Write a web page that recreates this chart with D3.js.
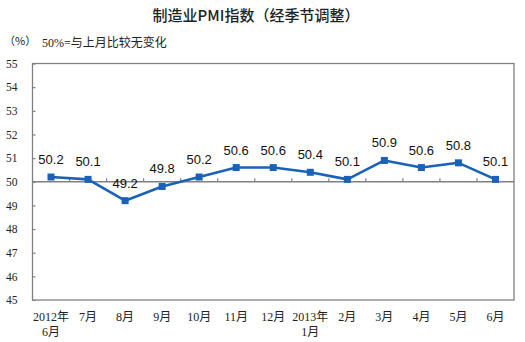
<!DOCTYPE html>
<html>
<head>
<meta charset="utf-8">
<script src="https://cdn.jsdelivr.net/npm/d3@7"></script>
<style>
  html, body { margin: 0; padding: 0; background: #fff; }
  svg { display: block; }
</style>
</head>
<body>
<svg id="chart" width="525" height="342"></svg>
<script>
// Manufacturing PMI, seasonally adjusted, June 2012 – June 2013
const monthLine1 = ["2012年", "7月", "8月", "9月", "10月", "11月", "12月", "2013年", "2月", "3月", "4月", "5月", "6月"];
const monthLine2 = ["6月", "", "", "", "", "", "", "1月", "", "", "", "", ""];
const pmiValues = [50.2, 50.1, 49.2, 49.8, 50.2, 50.6, 50.6, 50.4, 50.1, 50.9, 50.6, 50.8, 50.1];
const yTicks = [45, 46, 47, 48, 49, 50, 51, 52, 53, 54, 55];

const svg = d3.select("#chart");
const plot = { left: 32.5, right: 514, top: 63.5, bottom: 300 };
const lineColor = "#1a62b8";
const frameColor = "#808080";
const cjk = "'Noto Sans CJK SC', sans-serif";
const serif = "'Liberation Serif', 'Noto Sans CJK SC', serif";

const x = d3.scaleBand().domain(d3.range(pmiValues.length)).range([plot.left, plot.right]);
const y = d3.scaleLinear().domain([45, 55]).range([plot.bottom, plot.top]);

// Title and unit notes
svg.append("text")
  .attr("x", 256).attr("y", 21)
  .attr("text-anchor", "middle")
  .attr("font-family", cjk).attr("font-size", 15).attr("font-weight", 500)
  .attr("fill", "#222")
  .text("制造业PMI指数（经季节调整）");

svg.append("text")
  .attr("x", 4).attr("y", 45)
  .attr("font-family", cjk).attr("font-size", 11).attr("fill", "#222")
  .text("（%）");

svg.append("text")
  .attr("x", 42).attr("y", 47)
  .attr("font-family", serif).attr("font-size", 12).attr("fill", "#222")
  .text("50%=与上月比较无变化");

// Plot frame
svg.append("rect")
  .attr("x", plot.left).attr("y", plot.top)
  .attr("width", plot.right - plot.left).attr("height", plot.bottom - plot.top)
  .attr("fill", "none").attr("stroke", frameColor).attr("stroke-width", 1.3);

// Y axis: inward ticks, labels on the left
const yAxis = d3.axisLeft(y).tickValues(yTicks).tickSize(-3).tickPadding(15).tickFormat(d3.format("d"));
const yg = svg.append("g").attr("transform", `translate(${plot.left},0)`).call(yAxis);
yg.select(".domain").remove();
yg.selectAll(".tick line").attr("stroke", frameColor).attr("stroke-width", 1.2);
yg.selectAll(".tick text")
  .attr("font-family", serif).attr("font-size", 11.5).attr("fill", "#222");

// Reference line at 50 with category tick marks pointing up
const base = y(50);
svg.append("line")
  .attr("x1", plot.left).attr("x2", plot.right)
  .attr("y1", base).attr("y2", base)
  .attr("stroke", frameColor).attr("stroke-width", 1.3);

const boundaries = d3.range(1, pmiValues.length).map(i => x(i));
svg.append("g").selectAll("line").data(boundaries).join("line")
  .attr("x1", d => d).attr("x2", d => d)
  .attr("y1", base).attr("y2", base - 3.5)
  .attr("stroke", frameColor).attr("stroke-width", 1.2);

// Category labels (two lines where the year is shown)
const cx = i => x(i) + x.bandwidth() / 2;
const xl = svg.append("g")
  .attr("font-family", serif).attr("font-size", 12).attr("fill", "#222")
  .attr("text-anchor", "middle");
xl.selectAll("text.l1").data(monthLine1).join("text").attr("class", "l1")
  .attr("x", (d, i) => cx(i)).attr("y", 321).text(d => d);
xl.selectAll("text.l2").data(monthLine2).join("text").attr("class", "l2")
  .attr("x", (d, i) => cx(i)).attr("y", 336).text(d => d);

// Data line and markers
const line = d3.line().x((d, i) => cx(i)).y(d => y(d));
svg.append("path")
  .datum(pmiValues)
  .attr("d", line)
  .attr("fill", "none").attr("stroke", lineColor).attr("stroke-width", 2.6)
  .attr("stroke-linejoin", "round");

svg.append("g").selectAll("rect").data(pmiValues).join("rect")
  .attr("x", (d, i) => cx(i) - 3.5).attr("y", d => y(d) - 3.5)
  .attr("width", 7).attr("height", 7)
  .attr("fill", lineColor);

// Value labels above each point
svg.append("g").selectAll("text").data(pmiValues).join("text")
  .attr("x", (d, i) => cx(i)).attr("y", d => y(d) - 13)
  .attr("text-anchor", "middle")
  .attr("font-family", "'Liberation Sans', Arial, sans-serif").attr("font-size", 13)
  .attr("fill", "#111")
  .text(d => d3.format(".1f")(d));
</script>
</body>
</html>
